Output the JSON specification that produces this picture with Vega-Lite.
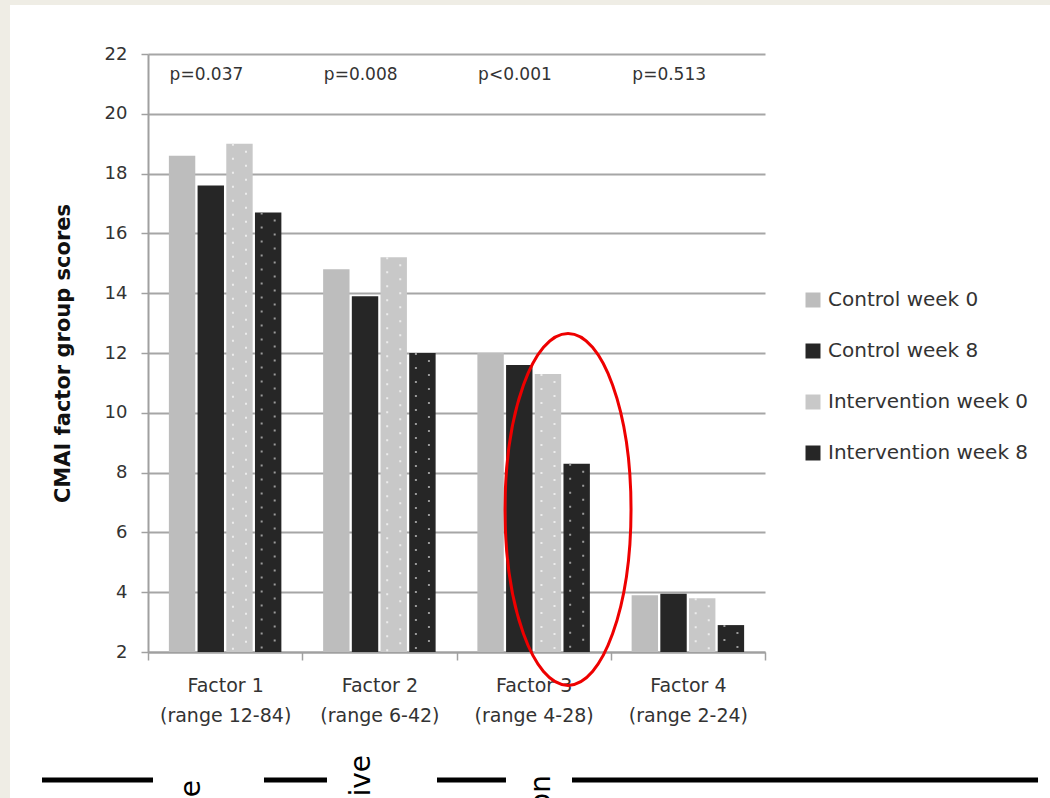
{
  "$schema": "https://vega.github.io/schema/vega-lite/v6.json",
  "width": 617,
  "height": 598,
  "autosize": {"type": "none"},
  "padding": {"left": 148, "top": 54, "right": 285, "bottom": 146},
  "background": "white",
  "config": {
    "view": {"stroke": null},
    "font": "DejaVu Sans"
  },
  "datasets": {
    "scores": [
      {"factor": "Factor 1|(range 12-84)", "group": "Control week 0", "score": 18.6},
      {"factor": "Factor 1|(range 12-84)", "group": "Control week 8", "score": 17.6},
      {"factor": "Factor 1|(range 12-84)", "group": "Intervention week 0", "score": 19.0},
      {"factor": "Factor 1|(range 12-84)", "group": "Intervention week 8", "score": 16.7},
      {"factor": "Factor 2|(range 6-42)", "group": "Control week 0", "score": 14.8},
      {"factor": "Factor 2|(range 6-42)", "group": "Control week 8", "score": 13.9},
      {"factor": "Factor 2|(range 6-42)", "group": "Intervention week 0", "score": 15.2},
      {"factor": "Factor 2|(range 6-42)", "group": "Intervention week 8", "score": 12.0},
      {"factor": "Factor 3|(range 4-28)", "group": "Control week 0", "score": 12.0},
      {"factor": "Factor 3|(range 4-28)", "group": "Control week 8", "score": 11.6},
      {"factor": "Factor 3|(range 4-28)", "group": "Intervention week 0", "score": 11.3},
      {"factor": "Factor 3|(range 4-28)", "group": "Intervention week 8", "score": 8.3},
      {"factor": "Factor 4|(range 2-24)", "group": "Control week 0", "score": 3.9},
      {"factor": "Factor 4|(range 2-24)", "group": "Control week 8", "score": 3.95},
      {"factor": "Factor 4|(range 2-24)", "group": "Intervention week 0", "score": 3.8},
      {"factor": "Factor 4|(range 2-24)", "group": "Intervention week 8", "score": 2.9}
    ],
    "pvalues": [
      {"factor": "Factor 1|(range 12-84)", "p": "p=0.037", "y": 21.3},
      {"factor": "Factor 2|(range 6-42)", "p": "p=0.008", "y": 21.3},
      {"factor": "Factor 3|(range 4-28)", "p": "p<0.001", "y": 21.3},
      {"factor": "Factor 4|(range 2-24)", "p": "p=0.513", "y": 21.3}
    ],
    "highlight": [
      {"factor": "Factor 3|(range 4-28)", "y": 6.77}
    ],
    "strips": [
      {"x": -24.2, "x2": -22.37, "y": 24.0, "y2": -3.0},
      {"x": -24.2, "x2": 146.5, "y": 24.0, "y2": 23.64}
    ],
    "rules": [
      {"x": -17.18, "x2": 0.81, "y": -2.28},
      {"x": 18.8, "x2": 29.01, "y": -2.28},
      {"x": 46.84, "x2": 58.02, "y": -2.28},
      {"x": 68.72, "x2": 144.25, "y": -2.28}
    ],
    "headers": [
      {"x": 8.43, "y": -2.28, "label": "e"},
      {"x": 35.98, "y": -1.445, "label": "ive"},
      {"x": 65.15, "y": -2.117, "label": "on"}
    ]
  },
  "layer": [
    {
      "encoding": {
        "x": {
          "field": "factor",
          "type": "nominal",
          "scale": {"paddingInner": 0, "paddingOuter": 0},
          "axis": {
            "title": null,
            "labelAngle": 0,
            "labelExpr": "split(datum.label, '|')",
            "labelFontSize": 19,
            "labelLineHeight": 30,
            "labelColor": "#333333",
            "labelPadding": 16,
            "domainColor": "#a0a0a0",
            "domainWidth": 2,
            "tickColor": "#a0a0a0",
            "tickWidth": 1.5,
            "tickSize": 8,
            "tickBand": "extent"
          }
        }
      },
      "layer": [
        {
          "data": {"name": "scores"},
          "mark": {"type": "bar"},
          "encoding": {
            "xOffset": {"field": "group", "type": "nominal", "scale": {"paddingInner": 0.08, "paddingOuter": 0.7275}},
            "y": {
              "field": "score",
              "type": "quantitative",
              "title": "CMAI factor group scores",
              "scale": {"domain": [2, 22], "zero": false, "nice": false},
              "axis": {
                "values": [2, 4, 6, 8, 10, 12, 14, 16, 18, 20, 22],
                "grid": true,
                "gridColor": "#a6a6a6",
                "gridWidth": 2,
                "domainColor": "#a0a0a0",
                "domainWidth": 2,
                "tickColor": "#a0a0a0",
                "tickWidth": 1.5,
                "tickSize": 7,
                "labelFontSize": 18,
                "labelColor": "#333333",
                "labelPadding": 14,
                "titleFontSize": 21,
                "titleFontWeight": "bold",
                "titleColor": "#111111",
                "titlePadding": 31
              }
            },
            "y2": {"datum": 2},
            "color": {
              "field": "group",
              "type": "nominal",
              "scale": {
                "domain": ["Control week 0", "Control week 8", "Intervention week 0", "Intervention week 8"],
                "range": ["#bdbdbd", "#262626", "#c8c8c8", "#262626"]
              },
              "legend": {
                "title": null,
                "orient": "none",
                "legendX": 655,
                "legendY": 236,
                "padding": 0,
                "symbolType": "square",
                "symbolSize": 225,
                "symbolStrokeWidth": 0,
                "labelFontSize": 20,
                "labelColor": "#333333",
                "labelOffset": 5,
                "labelLimit": 0,
                "rowPadding": 31
              }
            }
          }
        },
        {
          "data": {"name": "scores"},
          "transform": [{"filter": "datum.group === 'Intervention week 0'"}],
          "mark": {"type": "rule", "stroke": "#ececec", "strokeWidth": 2, "strokeDash": [2, 12]},
          "encoding": {
            "xOffset": {"field": "group", "type": "nominal", "scale": {"domain": ["Control week 0", "Control week 8", "Intervention week 0", "Intervention week 8"], "paddingInner": 0.08, "paddingOuter": 0.7275, "align": 0.344}},
            "y": {"field": "score", "type": "quantitative"},
            "y2": {"datum": 2}
          }
        },
        {
          "data": {"name": "scores"},
          "transform": [{"filter": "datum.group === 'Intervention week 0'"}],
          "mark": {"type": "rule", "stroke": "#ececec", "strokeWidth": 2, "strokeDash": [2, 12], "strokeDashOffset": 7},
          "encoding": {
            "xOffset": {"field": "group", "type": "nominal", "scale": {"domain": ["Control week 0", "Control week 8", "Intervention week 0", "Intervention week 8"], "paddingInner": 0.08, "paddingOuter": 0.7275, "align": 0.656}},
            "y": {"field": "score", "type": "quantitative"},
            "y2": {"datum": 2}
          }
        },
        {
          "data": {"name": "scores"},
          "transform": [{"filter": "datum.group === 'Intervention week 8'"}],
          "mark": {"type": "rule", "stroke": "#9a9a9a", "strokeWidth": 2, "strokeDash": [2, 12]},
          "encoding": {
            "xOffset": {"field": "group", "type": "nominal", "scale": {"domain": ["Control week 0", "Control week 8", "Intervention week 0", "Intervention week 8"], "paddingInner": 0.08, "paddingOuter": 0.7275, "align": 0.344}},
            "y": {"field": "score", "type": "quantitative"},
            "y2": {"datum": 2}
          }
        },
        {
          "data": {"name": "scores"},
          "transform": [{"filter": "datum.group === 'Intervention week 8'"}],
          "mark": {"type": "rule", "stroke": "#9a9a9a", "strokeWidth": 2, "strokeDash": [2, 12], "strokeDashOffset": 7},
          "encoding": {
            "xOffset": {"field": "group", "type": "nominal", "scale": {"domain": ["Control week 0", "Control week 8", "Intervention week 0", "Intervention week 8"], "paddingInner": 0.08, "paddingOuter": 0.7275, "align": 0.656}},
            "y": {"field": "score", "type": "quantitative"},
            "y2": {"datum": 2}
          }
        },
        {
          "data": {"name": "pvalues"},
          "mark": {"type": "text", "align": "left", "baseline": "middle", "fontSize": 17, "color": "#333333", "font": "DejaVu Sans"},
          "encoding": {
            "x": {"field": "factor", "type": "nominal", "bandPosition": 0.14},
            "y": {"field": "y", "type": "quantitative"},
            "text": {"field": "p"}
          }
        },
        {
          "data": {"name": "highlight"},
          "mark": {
            "type": "point",
            "shape": "M -0.358 0 A 0.358 1 0 1 0 0.358 0 A 0.358 1 0 1 0 -0.358 0 Z",
            "size": 123904,
            "filled": false,
            "stroke": "#ee0000",
            "strokeWidth": 3,
            "opacity": 1
          },
          "encoding": {
            "x": {"field": "factor", "type": "nominal", "bandPosition": 0.723},
            "y": {"field": "y", "type": "quantitative"}
          }
        }
      ],
      "resolve": {"scale": {"xOffset": "independent"}}
    },
    {
      "encoding": {
        "x": {"field": "x", "type": "quantitative", "scale": {"domain": [0, 100], "nice": false, "zero": false}, "axis": null},
        "y": {"field": "y", "type": "quantitative", "scale": {"domain": [2, 22], "nice": false, "zero": false}, "axis": null}
      },
      "layer": [
        {
          "data": {"name": "strips"},
          "mark": {"type": "rect", "fill": "#efede5", "clip": false},
          "encoding": {
            "x2": {"field": "x2"},
            "y2": {"field": "y2"}
          }
        },
        {
          "data": {"name": "rules"},
          "mark": {"type": "rule", "stroke": "#000000", "strokeWidth": 5, "clip": false},
          "encoding": {
            "x2": {"field": "x2"}
          }
        },
        {
          "data": {"name": "headers"},
          "mark": {"type": "text", "angle": 270, "align": "right", "baseline": "alphabetic", "fontSize": 28, "color": "#000000", "font": "DejaVu Sans", "clip": false},
          "encoding": {
            "text": {"field": "label"}
          }
        }
      ]
    }
  ],
  "resolve": {"scale": {"x": "independent", "y": "independent"}}
}
